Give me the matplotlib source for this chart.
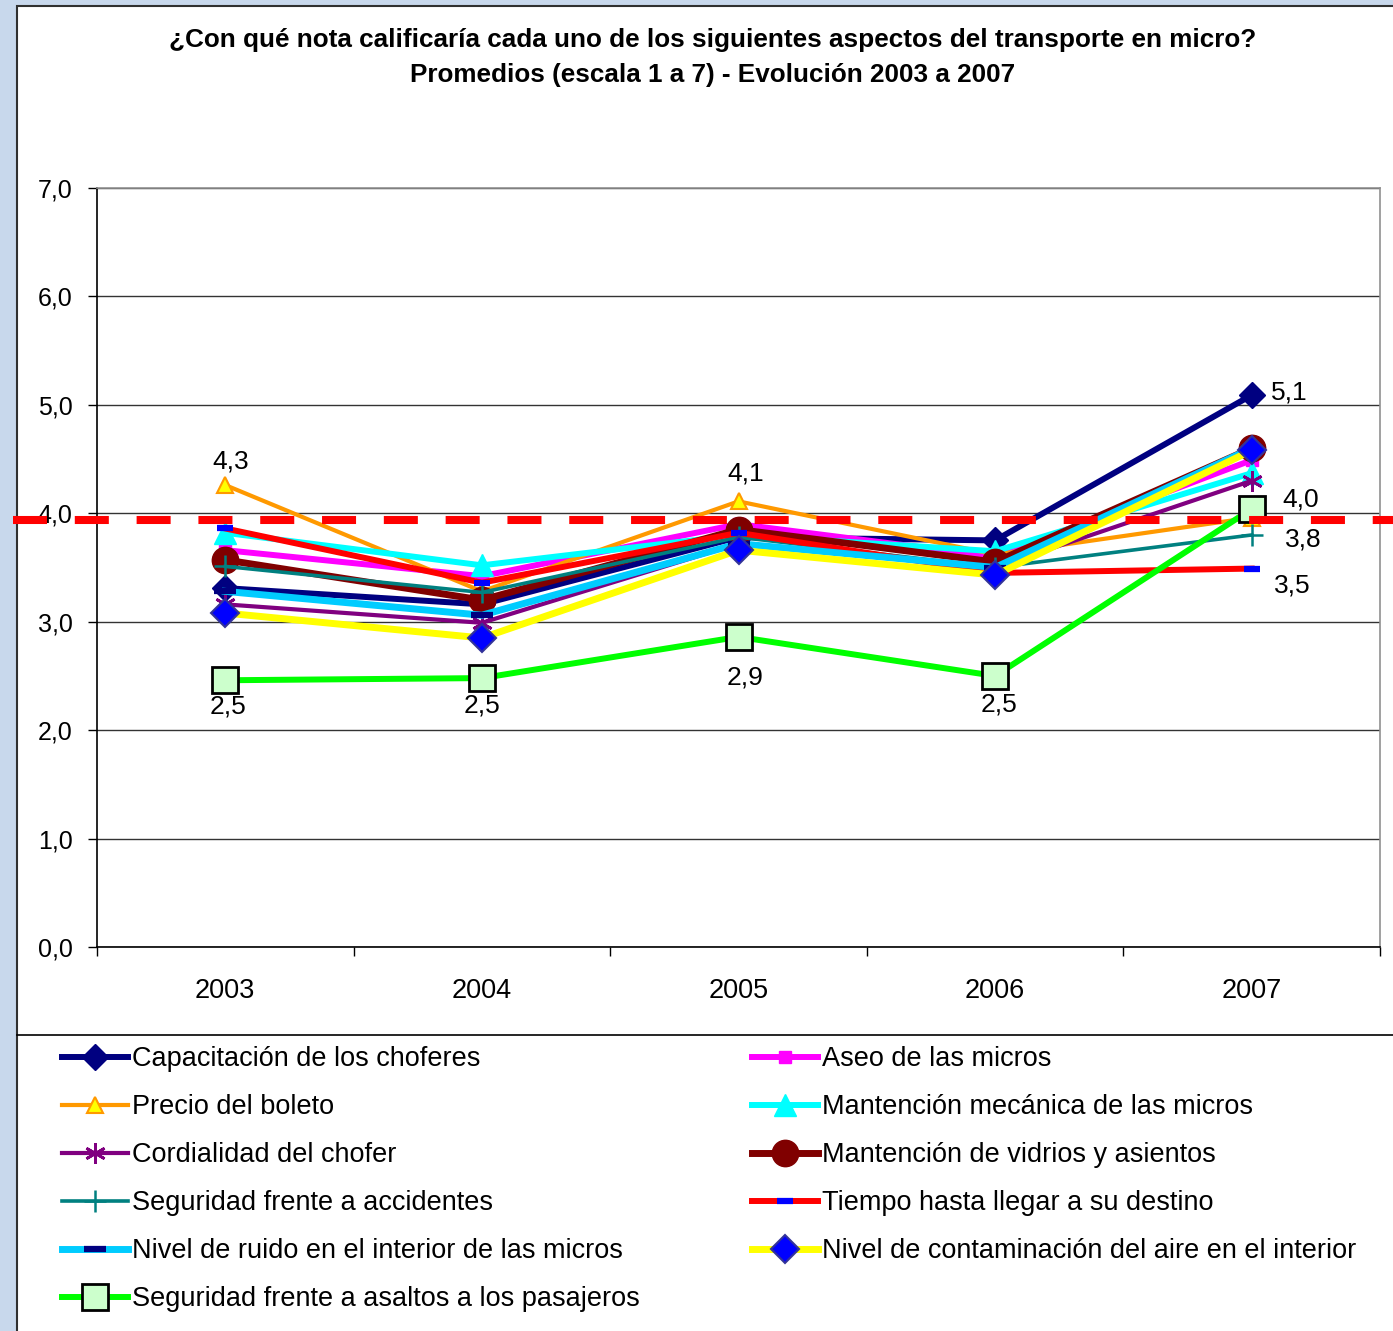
import matplotlib
matplotlib.use('Agg')
import numpy as np
import matplotlib.pyplot as plt
from matplotlib.lines import Line2D
from matplotlib.patches import Rectangle
import matplotlib.transforms as mtransforms
from matplotlib.ticker import FuncFormatter

plt.rcParams['font.family'] = ['Liberation Sans', 'DejaVu Sans']
plt.rcParams['lines.scale_dashes'] = False

# ---------------- data ----------------
years = ['2003', '2004', '2005', '2006', '2007']
capacitacion = [3.31, 3.16, 3.78, 3.75, 5.09]
aseo = [3.66, 3.42, 3.90, 3.60, 4.49]
precio = [4.26, 3.28, 4.11, 3.62, 3.96]
mecanica = [3.82, 3.52, 3.80, 3.65, 4.37]
cordialidad = [3.16, 2.99, 3.72, 3.50, 4.30]
vidrios = [3.57, 3.20, 3.85, 3.55, 4.60]
seg_accidentes = [3.51, 3.27, 3.78, 3.50, 3.80]
tiempo = [3.86, 3.36, 3.82, 3.45, 3.49]
ruido = [3.28, 3.06, 3.72, 3.50, 4.60]
contaminacion = [3.08, 2.85, 3.66, 3.43, 4.58]
asaltos = [2.46, 2.48, 2.86, 2.50, 4.04]
reference_value = 3.94

names = ['Capacitación de los choferes', 'Aseo de las micros', 'Precio del boleto',
         'Mantención mecánica de las micros', 'Cordialidad del chofer',
         'Mantención de vidrios y asientos', 'Seguridad frente a accidentes',
         'Tiempo hasta llegar a su destino', 'Nivel de ruido en el interior de las micros',
         'Nivel de contaminación del aire en el interior',
         'Seguridad frente a asaltos a los pasajeros']
title = ('¿Con qué nota calificaría cada uno de los siguientes aspectos del transporte en micro?\n'
         'Promedios (escala 1 a 7) - Evolución 2003 a 2007')

# ---------------- figure ----------------
W, H = 1393, 1331
fig = plt.figure(figsize=(W / 100, H / 100), dpi=100)
fig.patch.set_facecolor('#c8d8ec')


def fx(px):
    return px / W


def fy(py):
    return 1 - py / H


fig.add_artist(Rectangle((fx(16.5), fy(1340)), fx(1400 - 16.5), (1340 - 5.5) / H,
                         facecolor='white', edgecolor='#303030', lw=1.5,
                         transform=fig.transFigure, zorder=-1))
fig.add_artist(Line2D([fx(17), 1.0], [fy(1035), fy(1035)], color='black', lw=1.2,
                      transform=fig.transFigure))

ax = fig.add_axes([fx(97), fy(947), fx(1380) - fx(97), (947 - 188) / H])
ax.set_facecolor('white')
x = np.arange(len(years))

styles = [
    dict(color='#000080', lw=4.3, marker='D', ms=13, mfc='#000080', mec='#000080'),
    dict(color='#FF00FF', lw=4.3, marker='s', ms=9, mfc='#FF00FF', mec='#FF00FF'),
    dict(color='#FF9900', lw=3.0, marker='^', ms=11, mfc='#FFFF00', mec='#FF9900', mew=1.5),
    dict(color='#00FFFF', lw=4.3, marker='^', ms=16, mfc='#00FFFF', mec='#00FFFF'),
    dict(color='#800080', lw=3.0, marker=(6, 2, 0), ms=15, mfc='#800080', mec='#800080', mew=2),
    dict(color='#800000', lw=5.0, marker='o', ms=19, mfc='#800000', mec='#800000'),
    dict(color='#008080', lw=2.6, marker='+', ms=16, mfc='#008080', mec='#008080', mew=1.8),
    dict(color='#FF0000', lw=4.3, marker='_', ms=12, mfc='#0000FF', mec='#0000FF', mew=4.5),
    dict(color='#00CCFF', lw=5.0, marker='_', ms=16, mfc='#000080', mec='#000080', mew=4.5),
    dict(color='#FFFF00', lw=5.0, marker='D', ms=14, mfc='#0000FF', mec='#333399', mew=1.5),
    dict(color='#00FF00', lw=4.3, marker='s', ms=19, mfc='#CCFFCC', mec='#000000', mew=2),
]
series = [capacitacion, aseo, precio, mecanica, cordialidad, vidrios,
          seg_accidentes, tiempo, ruido, contaminacion, asaltos]

handles = []
for i, (vals, st) in enumerate(zip(series, styles)):
    ln, = ax.plot(x, vals, label=names[i], zorder=3 + i * 0.1, solid_joinstyle='miter', **st)
    handles.append(ln)

ax.set_xlim(-0.5, 4.5)
ax.set_ylim(0, 7)
ax.set_yticks(np.arange(0, 7.01, 1))
ax.yaxis.set_major_formatter(FuncFormatter(lambda v, _: f"{v:.1f}".replace('.', ',')))
ax.set_xticks(x)
ax.set_xticklabels(years)
ax.set_xticks(np.arange(-0.5, 4.51, 1), minor=True)
ax.tick_params(axis='y', direction='out', length=6.5, width=1, labelsize=18, pad=11)
ax.tick_params(axis='x', which='major', length=0, labelsize=19.5, pad=22)
ax.tick_params(axis='x', which='minor', direction='out', length=6.5, width=1)
ax.yaxis.grid(True, color='#333333', lw=1)
ax.set_axisbelow(True)
for s in ['left', 'bottom']:
    ax.spines[s].set_color('black')
    ax.spines[s].set_linewidth(1.2)
for s in ['top', 'right']:
    ax.spines[s].set_color('#909090')
    ax.spines[s].set_linewidth(1.2)


def fmt(v):
    return f"{v:.1f}".replace('.', ',')


label_specs = [
    (precio, 0, 5, 24), (precio, 2, 7, 28),
    (asaltos, 0, 3, -26), (asaltos, 1, 0, -27), (asaltos, 2, 7, -41),
    (asaltos, 3, 4, -29), (asaltos, 4, 49, 9),
    (capacitacion, 4, 38, 3), (seg_accidentes, 4, 52, -5), (tiempo, 4, 41, -17),
]
for vals, idx, dx, dy in label_specs:
    ax.annotate(fmt(vals[idx]), (x[idx], vals[idx]), xytext=(dx, dy), textcoords='offset pixels',
                ha='center', va='center', fontsize=19, zorder=10)

# reference dashed line across the whole chart
blend = mtransforms.blended_transform_factory(fig.transFigure, ax.transData)
fig.add_artist(Line2D([fx(13), 1.0], [reference_value, reference_value], transform=blend,
                      color='#FF0000', lw=5.8, dashes=(24.5, 20.0), solid_capstyle='butt',
                      dash_capstyle='butt', zorder=5, clip_on=False))

fig.text(fx(713), fy(57.5), title, ha='center', va='center', fontsize=18.8, fontweight='bold',
         linespacing=1.58)

left_idx = [0, 2, 4, 6, 8, 10]
right_idx = [1, 3, 5, 7, 9]
common = dict(loc='upper left', frameon=False, fontsize=19.5, handlelength=2.45, handletextpad=0.15,
              labelspacing=0.815, borderpad=0, borderaxespad=0, numpoints=1)
fig.legend([handles[i] for i in left_idx], [names[i] for i in left_idx],
           bbox_to_anchor=(fx(62), fy(1046)), **common)
fig.legend([handles[i] for i in right_idx], [names[i] for i in right_idx],
           bbox_to_anchor=(fx(752), fy(1046)), **common)

fig.savefig('out.png', dpi=100)
